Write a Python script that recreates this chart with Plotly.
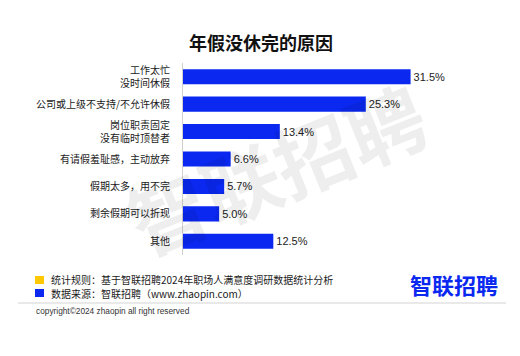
import plotly.graph_objects as go

categories = ["工作太忙<br>没时间休假", "公司或上级不支持/不允许休假", "岗位职责固定<br>没有临时顶替者",
              "有请假羞耻感，主动放弃", "假期太多，用不完", "剩余假期可以折现", "其他"]
values = [31.5, 25.3, 13.4, 6.6, 5.7, 5.0, 12.5]

W, H = 520, 356
L, R, T, B = 183, 48, 63, 101
PW, PH = W - L - R, H - T - B

def px(x):
    return (x - L) / PW

def py(y):
    return (H - B - y) / PH

FONT = "Noto Sans CJK SC"
BLUE = "#0A28F0"

fig = go.Figure(go.Bar(
    x=values, y=categories, orientation="h",
    marker=dict(color=BLUE, line=dict(width=0)),
    texttemplate="%{x:.1f}%", textposition="outside", cliponaxis=False,
    textfont=dict(size=11, color="#222", family="Liberation Sans"),
))

fig.update_layout(
    width=W, height=H, margin=dict(l=L, r=R, t=T, b=B),
    paper_bgcolor="white", plot_bgcolor="white",
    bargap=0.45, showlegend=False,
    font=dict(family=FONT, color="#222"),
    xaxis=dict(range=[0, 40], visible=False),
    yaxis=dict(autorange="reversed", showline=True, linecolor="#d0d0d0", linewidth=1,
               ticks="", ticklabelstandoff=10, tickfont=dict(size=10, color="#1a1a1a", family=FONT)),
)

annotations = [
    dict(text="<b>智联招聘</b>", x=px(276), y=py(167), xref="paper", yref="paper", showarrow=False,
         textangle=-22, font=dict(size=78, color="rgba(0,0,0,0.065)", family=FONT),
         xanchor="center", yanchor="middle"),
    dict(text="<b>年假没休完的原因</b>", x=px(261), y=py(42), xref="paper", yref="paper",
         showarrow=False, font=dict(size=18, color="#111", family=FONT), xanchor="center", yanchor="middle"),
    dict(text="统计规则：基于智联招聘2024年职场人满意度调研数据统计分析", x=px(49), y=py(279.5),
         xref="paper", yref="paper", showarrow=False, xanchor="left", yanchor="middle",
         font=dict(size=10, color="#1a1a1a", family=FONT)),
    dict(text="数据来源：智联招聘（www.zhaopin.com）", x=px(49), y=py(293.5),
         xref="paper", yref="paper", showarrow=False, xanchor="left", yanchor="middle",
         font=dict(size=10, color="#1a1a1a", family=FONT)),
    dict(text="<b>智联招聘</b>", x=px(500), y=py(284), xref="paper", yref="paper", showarrow=False,
         xanchor="right", yanchor="middle", font=dict(size=22, color=BLUE, family=FONT)),
    dict(text="copyright©2024 zhaopin all right reserved", x=px(34), y=py(311),
         xref="paper", yref="paper", showarrow=False, xanchor="left", yanchor="middle",
         font=dict(size=8.3, color="#333", family="Liberation Sans")),
]

shapes = [
    dict(type="rect", xref="paper", yref="paper", x0=px(35), x1=px(44), y0=py(276), y1=py(284),
         fillcolor="#FFC800", line=dict(width=0)),
    dict(type="rect", xref="paper", yref="paper", x0=px(35), x1=px(44), y0=py(289), y1=py(297),
         fillcolor=BLUE, line=dict(width=0)),
    dict(type="line", xref="paper", yref="paper", x0=px(18), x1=px(506), y0=py(303), y1=py(303),
         line=dict(color="#e2e2e2", width=1.5)),
]

fig.update_layout(annotations=annotations, shapes=shapes)
fig.write_html("out.html", config={"displayModeBar": False},
               post_script="document.body.style.margin='0';")
